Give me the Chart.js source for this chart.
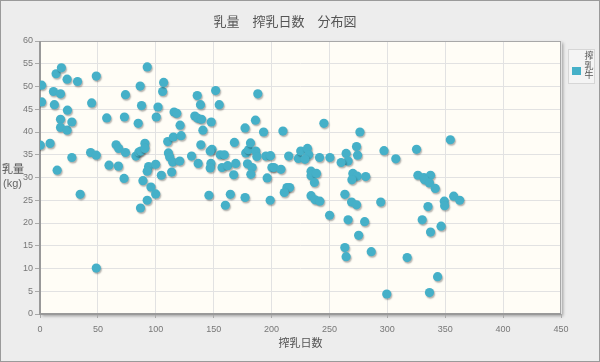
<!DOCTYPE html>
<html lang="ja">
<head>
    <meta charset="UTF-8">
    <title>乳量 搾乳日数 分布図</title>
    <script src="https://cdn.jsdelivr.net/npm/chart.js"></script>
    <style>
        html, body { margin: 0; padding: 0; background: #ededed; }
        canvas { display: block; }
    </style>
</head>
<body>
    <canvas id="milkChart" width="600" height="362"></canvas>

    <script>
        // chart text
        const chartTitle = '乳量　搾乳日数　分布図';
        const xTitle = '搾乳日数';
        const yTitleLines = ['乳量', '(kg)'];
        const seriesName = '搾乳牛';

        // axis ranges / ticks
        const xTicks = [0, 50, 100, 150, 200, 250, 300, 350, 400, 450];
        const yTicks = [0, 5, 10, 15, 20, 25, 30, 35, 40, 45, 50, 55, 60];

        // days in milk (x) and milk yield kg (y)
        const days = [
            1.4, 1.4, 0.3, 8.7, 13.9, 18.5, 11.6, 17.7, 12.4, 23.4,
            32.4, 23.7, 17.7, 17.7, 23.4, 27.5, 14.8, 27.5, 34.7, 48.6,
            44.6, 43.7, 48.6, 57.6, 59.6, 65.7, 68.0, 67.7, 73.8, 72.9,
            73.8, 72.6, 82.8, 84.8, 86.5, 87.7, 85.4, 87.1, 90.6, 90.6,
            92.6, 88.9, 93.8, 92.6, 95.8, 86.8, 92.6, 99.9, 99.9, 100.4,
            101.9, 105.9, 106.8, 104.8, 110.3, 115.2, 110.9, 112.0, 114.6, 113.7,
            115.8, 118.1, 121.0, 121.9, 120.7, 130.9, 133.7, 136.3, 139.5, 135.8,
            138.6, 140.7, 138.9, 136.6, 147.9, 148.5, 147.0, 147.6, 147.0, 151.7,
            154.8, 145.9, 155.7, 159.2, 157.2, 162.1, 160.1, 164.4, 167.9, 169.0,
            167.3, 177.1, 177.7, 180.1, 181.8, 179.2, 183.2, 182.1, 177.1, 188.1,
            186.1, 186.4, 187.3, 193.1, 195.1, 199.1, 196.2, 200.3, 202.0, 198.8,
            209.8, 208.1, 214.8, 213.3, 215.6, 211.0, 223.2, 225.2, 231.0, 232.1,
            228.9, 234.1, 234.1, 238.8, 237.0, 234.1, 237.6, 241.7, 245.2, 241.4,
            250.4, 250.1,
            276.3, 273.4, 274.3, 264.4, 266.1, 260.1, 297.1, 307.3, 325.2, 270.2,
            274.0, 281.3, 326.4, 331.6, 337.3, 269.4, 332.1, 336.4, 341.4, 263.3,
            269.1, 273.4, 294.3, 266.1, 280.4, 275.2, 263.3, 264.4, 286.1, 317.1,
            299.5, 330.1, 335.1, 337.3, 336.4, 354.4, 357.3, 362.5, 349.2, 349.5,
            346.4, 343.4, 48.6
        ];
        const milkKg = [
            50.3, 46.6, 37.1, 37.5, 52.8, 54.1, 48.9, 48.4, 46.0, 51.6,
            51.1, 44.8, 42.8, 41.0, 40.4, 42.2, 31.6, 34.4, 26.3, 52.3,
            46.4, 35.5, 34.9, 43.1, 32.7, 37.2, 36.4, 32.5, 48.2, 43.3,
            35.5, 29.8, 34.7, 41.9, 50.1, 45.8, 35.6, 35.8, 37.5, 36.4,
            54.3, 29.3, 32.4, 31.4, 27.9, 23.3, 25.0, 26.4, 32.9, 43.3,
            45.5, 48.9, 50.9, 30.5, 37.9, 38.9, 35.4, 34.5, 33.4, 31.2,
            44.4, 44.1, 41.5, 39.2, 33.6, 34.7, 43.5, 43.0, 42.8, 48.0,
            46.0, 40.4, 37.2, 33.1, 42.2, 36.2, 35.8, 33.1, 32.1, 49.1,
            46.0, 26.1, 35.0, 35.0, 32.2, 32.6, 23.9, 26.3, 37.7, 33.1,
            30.6, 40.9, 35.4, 36.1, 37.6, 33.0, 32.2, 30.7, 25.6, 48.4,
            42.6, 35.8, 34.6, 40.0, 34.7, 34.8, 29.9, 32.2, 32.2, 25.0,
            40.2, 31.8, 34.7, 27.8, 27.8, 26.7, 34.2, 35.8, 36.4, 35.0,
            34.0, 31.4, 30.4, 30.9, 28.9, 26.0, 25.1, 24.8, 41.9, 34.4,
            34.4, 21.7,
            40.0, 36.8, 34.9, 35.3, 33.6, 33.3, 35.9, 34.1, 36.2, 30.9,
            30.3, 30.2, 30.5, 30.0, 30.5, 29.5, 29.5, 28.8, 27.6, 26.3,
            24.6, 24.0, 24.6, 20.7, 20.3, 17.3, 14.6, 12.6, 13.7, 12.4,
            4.4, 20.7, 23.6, 18.0, 4.7, 38.3, 25.9, 25.0, 24.8, 23.8,
            19.3, 8.2, 10.1
        ];

        const pointColor = '#45b0c8';
        const fontFamily = 'Arial, "Liberation Sans", "Noto Sans CJK JP", sans-serif';

        const points = days.map((d, i) => ({ x: d, y: milkKg[i] }));

        // background, frame, plot border, titles and legend drawn by hand
        const decorations = {
            id: 'decorations',
            beforeDraw(chart) {
                const ctx = chart.ctx;
                const a = chart.chartArea;
                ctx.save();
                ctx.fillStyle = '#ededed';
                ctx.fillRect(0, 0, chart.width, chart.height);
                ctx.strokeStyle = '#9a9a9a';
                ctx.lineWidth = 1;
                ctx.strokeRect(0.5, 0.5, chart.width - 1, chart.height - 1);
                // plot area with a soft shadow
                ctx.shadowColor = 'rgba(0,0,0,0.35)';
                ctx.shadowOffsetX = 2;
                ctx.shadowOffsetY = 2;
                ctx.shadowBlur = 3;
                ctx.fillStyle = '#fffdf6';
                ctx.fillRect(a.left, a.top, a.right - a.left, a.bottom - a.top);
                ctx.restore();
            },
            beforeDatasetsDraw(chart) {
                const ctx = chart.ctx;
                const a = chart.chartArea;
                ctx.save();
                ctx.strokeStyle = '#a8a8a8';
                ctx.lineWidth = 1;
                ctx.strokeRect(a.left + 0.5, a.top + 0.5, a.right - a.left - 1, a.bottom - a.top - 1);
                ctx.strokeStyle = '#999';
                ctx.lineWidth = 2;
                ctx.beginPath();
                ctx.moveTo(a.left, a.top);
                ctx.lineTo(a.left, a.bottom);
                ctx.lineTo(a.right, a.bottom);
                ctx.stroke();

                // titles
                ctx.fillStyle = '#555';
                ctx.textAlign = 'center';
                ctx.textBaseline = 'middle';
                ctx.font = '13px ' + fontFamily;
                ctx.fillText(chartTitle, 285, 22);
                ctx.font = '11px ' + fontFamily;
                ctx.fillText(xTitle, (a.left + a.right) / 2, 344);
                ctx.textAlign = 'left';
                ctx.fillText(yTitleLines[0], 2, 170);
                ctx.fillStyle = '#666';
                ctx.fillText(yTitleLines[1], 3, 184);

                // legend
                ctx.strokeStyle = '#d6d6d6';
                ctx.lineWidth = 1;
                ctx.fillStyle = '#f4f4f4';
                ctx.fillRect(568.5, 49.5, 26, 34);
                ctx.strokeRect(568.5, 49.5, 26, 34);
                ctx.fillStyle = pointColor;
                ctx.fillRect(572, 67, 9, 8);
                ctx.fillStyle = '#555';
                ctx.font = '9px ' + fontFamily;
                ctx.textAlign = 'center';
                [...seriesName].forEach((ch, i) => ctx.fillText(ch, 589, 57 + i * 9.5));

                // shadow for the points
                ctx.restore();
                ctx.save();
                ctx.shadowColor = 'rgba(0,0,0,0.3)';
                ctx.shadowOffsetX = 1;
                ctx.shadowOffsetY = 1.5;
                ctx.shadowBlur = 1.5;
            },
            afterDatasetsDraw(chart) {
                chart.ctx.restore();
            }
        };

        const ctx = document.getElementById('milkChart').getContext('2d');
        new Chart(ctx, {
            type: 'scatter',
            data: {
                datasets: [{
                    label: seriesName,
                    data: points,
                    backgroundColor: pointColor,
                    borderColor: pointColor,
                    borderWidth: 0,
                    pointRadius: 4.6,
                    pointHoverRadius: 4.6
                }]
            },
            options: {
                responsive: false,
                devicePixelRatio: 1,
                animation: false,
                layout: { padding: { top: 41, right: 39, left: 0, bottom: 0 } },
                plugins: {
                    legend: { display: false },
                    title: { display: false },
                    tooltip: { enabled: false }
                },
                scales: {
                    x: {
                        type: 'linear',
                        min: xTicks[0],
                        max: xTicks[xTicks.length - 1],
                        afterBuildTicks: s => { s.ticks = xTicks.map(v => ({ value: v })); },
                        afterFit: s => { s.height = 48; },
                        grid: { color: '#e2e2e2', tickColor: '#aaa', tickLength: 4 },
                        border: { display: false },
                        ticks: { color: '#777', font: { size: 9, family: fontFamily }, padding: 6, maxRotation: 0 }
                    },
                    y: {
                        type: 'linear',
                        min: yTicks[0],
                        max: yTicks[yTicks.length - 1],
                        afterBuildTicks: s => { s.ticks = yTicks.map(v => ({ value: v })); },
                        afterFit: s => { s.width = 40; },
                        grid: { color: '#e2e2e2', tickColor: '#aaa', tickLength: 5 },
                        border: { display: false },
                        ticks: { color: '#777', font: { size: 9, family: fontFamily }, padding: 2 }
                    }
                }
            },
            plugins: [decorations]
        });
    </script>
</body>
</html>
